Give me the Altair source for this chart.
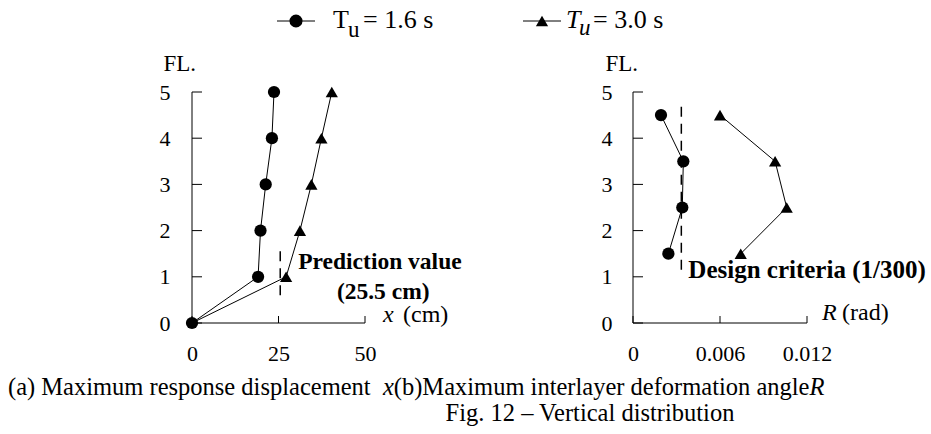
import altair as alt
import pandas as pd

FONT = "Liberation Serif"

# ---------------- data ----------------
floors = [0, 1, 2, 3, 4, 5]
disp_tu16 = [0, 19.1, 19.8, 21.3, 23.1, 23.7]
disp_tu30 = [0, 27.2, 31.2, 34.5, 37.4, 40.4]
story_levels = [1.5, 2.5, 3.5, 4.5]
drift_tu16 = [0.00244, 0.00340, 0.00347, 0.00193]
drift_tu30 = [0.00743, 0.01060, 0.00980, 0.00600]
series_names = ["Tu=3.0", "Tu=1.6"]
x_ticks_left = [0, 25, 50]
x_ticks_right = [0, 0.006, 0.012]
y_ticks = [0, 1, 2, 3, 4, 5]
prediction_value = 25.5
prediction_span = [0.6, 1.65]
design_criteria = 1 / 300
design_span = [1.15, 4.78]

# ---------------- layout constants ----------------
W1, W2, H = 173, 174, 231
OX, OY = 192, 92          # left plot origin on the page
RX = 633                  # right plot origin x
CANVAS_W, CANVAS_H = 931, 434

left_df = pd.DataFrame({
    "FL": floors + floors,
    "value": disp_tu30 + disp_tu16,
    "series": [series_names[0]] * 6 + [series_names[1]] * 6,
})
right_df = pd.DataFrame({
    "FL": story_levels + story_levels,
    "value": drift_tu30 + drift_tu16,
    "series": [series_names[0]] * 4 + [series_names[1]] * 4,
})
shape_scale = alt.Scale(domain=series_names, range=["triangle-up", "circle"])
one = pd.DataFrame({"k": [0]})

REG = {" ": 250, "(": 333, ")": 333, "a": 444, "b": 500, "c": 444, "d": 500, "e": 444,
       "f": 333, "g": 500, "h": 500, "i": 278, "l": 278, "m": 778, "n": 500, "o": 500,
       "p": 500, "r": 333, "s": 389, "t": 278, "u": 500, "v": 500, "x": 500, "y": 500,
       "M": 889, "R": 667, "F": 556, "V": 722, ".": 250, "–": 500, "=": 564}
ITA = {"x": 444, "R": 611, "T": 556, "u": 500}


def tw(s, table, size):
    return sum(table.get(c, 500) for c in s) / 1000.0 * size


def txt(s, xa, ya, size=23, style="normal", weight="normal", align="left",
        baseline="alphabetic", ox=OX, oy=OY):
    return alt.Chart(one).mark_text(
        text=s, font=FONT, fontSize=size, fontStyle=style, fontWeight=weight,
        align=align, baseline=baseline, color="black"
    ).encode(x=alt.value(xa - ox), y=alt.value(ya - oy))


def label_axis_x(vals, fmt):
    return alt.Axis(orient="bottom", values=vals, format=fmt, domain=False, ticks=False,
                    labelPadding=20, title=None, grid=False, labelFont=FONT,
                    labelFontSize=22, labelColor="black", labelAlign="center", zindex=1)


def label_axis_y(title_x, pad):
    return alt.Axis(orient="left", values=y_ticks, domain=False, ticks=False,
                    labelPadding=pad, grid=False, labelFont=FONT, labelFontSize=22,
                    labelColor="black", labelAlign="right", labelBaseline="middle",
                    title="FL.", titleAngle=0, titleX=title_x,
                    titleY=-29, titleAlign="left", titleBaseline="middle",
                    titleFont=FONT, titleFontSize=23, titleFontWeight="normal",
                    titleColor="black", zindex=1)


def panel(df, xdom, xt, fmt, w, title_x, pad):
    xs = alt.Scale(domain=xdom, nice=False, zero=False)
    ys = alt.Scale(domain=[0, 5], nice=False)
    lines = alt.Chart(df).mark_line(color="black", strokeWidth=1).encode(
        x=alt.X("value:Q", scale=xs, axis=None),
        y=alt.Y("FL:Q", scale=ys, axis=None),
        detail="series:N",
        order=alt.Order("FL:Q"),
    )
    pts = alt.Chart(df).mark_point(filled=True, opacity=1, color="black", size=150).encode(
        x=alt.X("value:Q", scale=xs, axis=label_axis_x(xt, fmt)),
        y=alt.Y("FL:Q", scale=ys, axis=label_axis_y(title_x, pad)),
        shape=alt.Shape("series:N", scale=shape_scale, legend=None),
    ).transform_filter("datum.series == 'Tu=1.6' || datum.FL > 0")
    # axis frame: domain lines and inward-pointing ticks
    xt_df = pd.DataFrame({"t": xt})
    yt_df = pd.DataFrame({"t": y_ticks})
    frame = [
        alt.Chart(one).mark_rule(color="black", strokeWidth=1).encode(
            x=alt.value(0), x2=alt.value(w), y=alt.value(H)),
        alt.Chart(one).mark_rule(color="black", strokeWidth=1).encode(
            x=alt.value(0), y=alt.value(0), y2=alt.value(H)),
        alt.Chart(xt_df).mark_rule(color="black", strokeWidth=1).encode(
            x=alt.X("t:Q", scale=xs, axis=None), y=alt.value(H), y2=alt.value(H - 7)),
        alt.Chart(yt_df).mark_rule(color="black", strokeWidth=1).encode(
            y=alt.Y("t:Q", scale=ys, axis=None), x=alt.value(0), x2=alt.value(10)),
    ]
    return frame, lines, pts, xs, ys


# ---------------- left panel ----------------
l_frame, l_lines, l_pts, lxs, lys = panel(left_df, [0, 50], x_ticks_left, "d", W1, -29, 22)
pred_df = pd.DataFrame({"x": [prediction_value], "y1": [prediction_span[0]],
                        "y2": [prediction_span[1]]})
pred_rule = alt.Chart(pred_df).mark_rule(color="black", strokeDash=[10, 7],
                                         strokeWidth=1.5).encode(
    x=alt.X("x:Q", scale=lxs, axis=None), y=alt.Y("y1:Q", scale=lys, axis=None), y2="y2:Q")
pred_t1 = alt.Chart(pred_df).mark_text(text="Prediction value", font=FONT, fontSize=23.5,
                                       fontWeight="bold", align="left", baseline="middle",
                                       dx=18, dy=15, color="black").encode(
    x=alt.X("x:Q", scale=lxs, axis=None), y=alt.Y("y2:Q", scale=lys, axis=None))
pred_t2 = alt.Chart(pred_df).mark_text(text="(25.5 cm)", font=FONT, fontSize=23.5,
                                       fontWeight="bold", align="center", baseline="middle",
                                       dx=103, dy=45, color="black").encode(
    x=alt.X("x:Q", scale=lxs, axis=None), y=alt.Y("y2:Q", scale=lys, axis=None))

bg = alt.Chart(one).mark_rect(opacity=0).encode(
    x=alt.value(-OX), x2=alt.value(CANVAS_W - OX),
    y=alt.value(-OY), y2=alt.value(CANVAS_H - OY))

# legend
LEG_Y = 21
leg = []
leg.append(alt.Chart(one).mark_rule(color="black", strokeWidth=1).encode(
    x=alt.value(277 - OX), x2=alt.value(315 - OX), y=alt.value(LEG_Y - OY)))
leg.append(alt.Chart(one).mark_point(shape="circle", filled=True, opacity=1,
                                     color="black", size=170).encode(
    x=alt.value(296 - OX), y=alt.value(LEG_Y - OY)))
leg.append(txt("T", 333, 28, size=26))
leg.append(txt("u", 348, 37, size=23))
leg.append(txt("= 1.6 s", 363, 28, size=26))
leg.append(alt.Chart(one).mark_rule(color="black", strokeWidth=1).encode(
    x=alt.value(523 - OX), x2=alt.value(561 - OX), y=alt.value(LEG_Y - OY)))
leg.append(alt.Chart(one).mark_point(shape="triangle-up", filled=True, opacity=1,
                                     color="black", size=150).encode(
    x=alt.value(542 - OX), y=alt.value(LEG_Y - OY)))
leg.append(txt("T", 566, 28, size=26, style="italic"))
leg.append(txt("u", 579, 35, size=23, style="italic"))
leg.append(txt("= 3.0 s", 593, 28, size=26))

# axis end titles
ann = []
ann.append(txt("x", 383, 322, size=24, style="italic"))
ann.append(txt("(cm)", 403, 322, size=24))
ann.append(txt("R", 822, 320, size=24, style="italic"))
ann.append(txt("(rad)", 842, 320, size=24))

# caption
CAP = 24.5
p1 = "(a)  Maximum response displacement "
p3 = "(b)Maximum interlayer deformation angle"
cx = 8
ann.append(txt(p1, cx, 395, size=CAP))
cx += tw(p1, REG, CAP)
ann.append(txt("x", cx, 395, size=CAP, style="italic"))
cx += tw("x", ITA, CAP)
ann.append(txt(p3, cx, 395, size=CAP))
cx += tw(p3, REG, CAP)
ann.append(txt("R", cx, 395, size=CAP, style="italic"))
ann.append(txt("Fig. 12 – Vertical distribution", 590, 421, size=CAP, align="center"))

left = alt.layer(bg, *l_frame, l_lines, l_pts, pred_rule, pred_t1, pred_t2, *leg,
                 *ann).resolve_axis(x="independent", y="independent").properties(
    width=W1, height=H)

# ---------------- right panel ----------------
r_frame, r_lines, r_pts, rxs, rys = panel(right_df, [0, 0.012], x_ticks_right, ".3~f",
                                          W2, -28, 21)
des_df = pd.DataFrame({"x": [design_criteria], "y1": [design_span[0]],
                       "y2": [design_span[1]]})
des_rule = alt.Chart(des_df).mark_rule(color="black", strokeDash=[10, 7],
                                       strokeWidth=1.5).encode(
    x=alt.X("x:Q", scale=rxs, axis=None), y=alt.Y("y1:Q", scale=rys, axis=None), y2="y2:Q")
des_t = alt.Chart(des_df).mark_text(text="Design criteria (1/300)", font=FONT, fontSize=25,
                                    fontWeight="bold", align="left", baseline="middle",
                                    dx=7, dy=0, color="black").encode(
    x=alt.X("x:Q", scale=rxs, axis=None), y=alt.Y("y1:Q", scale=rys, axis=None))

right = alt.layer(*r_frame, r_lines, r_pts, des_rule, des_t).resolve_axis(
    x="independent", y="independent").properties(width=W2, height=H)

chart = alt.hconcat(left, right, spacing=RX - OX - W1, bounds="flush").properties(
    padding=0, autosize=alt.AutoSizeParams(type="pad"), background="white"
).configure_view(stroke=None)

chart.save("out.html", embed_options={"renderer": "svg", "actions": False})
